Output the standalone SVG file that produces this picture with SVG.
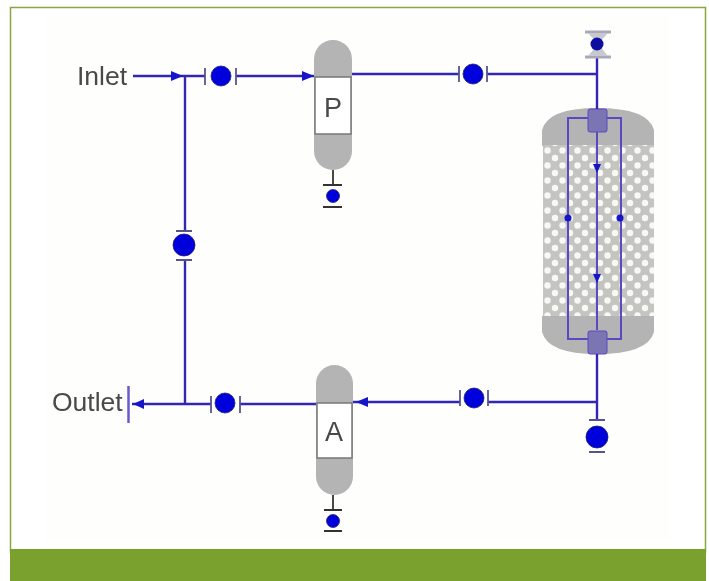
<svg xmlns="http://www.w3.org/2000/svg" width="709" height="581" viewBox="0 0 709 581">
<style>
.l{stroke:#3226b4;stroke-width:2.400;fill:none}
.t{stroke:#55558c;stroke-width:1.800;fill:none}
.b{fill:#0000dc;stroke:#22226e;stroke-width:.8}
.v{fill:#b4b4b4}
.x{font-family:"Liberation Sans",Arial,sans-serif;fill:#4a4a4a}
.h{fill:#1414c8}
</style>
<defs>
<pattern id="p" width="15" height="15" patternUnits="userSpaceOnUse" patternTransform="translate(544 147)">
<rect width="15" height="15" fill="#c4c4c0"/>
<circle cx="3.500" cy="3.500" r="3.200" fill="#f8f8f6"/>
<circle cx="11" cy="11" r="3.200" fill="#f8f8f6"/>
</pattern>
<filter id="s" x="-2%" y="-2%" width="104%" height="104%"><feGaussianBlur stdDeviation="0.6"/></filter>
</defs>
<rect width="709" height="581" fill="#fff"/>
<rect x="10.500" y="7.500" width="695" height="545" fill="#fff" stroke="#86a83e" stroke-width="1.500"/>
<rect x="45" y="16" width="625" height="525" fill="#fefefd"/>
<rect x="10" y="549" width="696" height="32" fill="#7aa02e"/>
<g filter="url(#s)">
<g id="vessel-p">
<rect class="v" x="314" y="40" width="38" height="130" rx="19"/>
<rect x="315" y="77" width="36" height="57" fill="#fff" stroke="#777" stroke-width="1.500"/>
<text class="x" x="333" y="117" font-size="27" text-anchor="middle">P</text>
<path stroke="#333" stroke-width="1.800" d="M333 170V186M323 185H342M323 207H342"/>
<circle class="b" cx="333" cy="196" r="6.500"/>
</g>
<g id="vessel-a">
<rect class="v" x="316" y="365" width="37" height="130" rx="18.500"/>
<rect x="317" y="403" width="35" height="55" fill="#fff" stroke="#777" stroke-width="1.500"/>
<text class="x" x="334" y="441" font-size="27" text-anchor="middle">A</text>
<path stroke="#333" stroke-width="1.800" d="M333 495V510M324 510H342M324 531H342"/>
<circle class="b" cx="333" cy="521" r="6.500"/>
</g>
<g id="column">
<path class="v" d="M542 146V130Q548 108 597 108Q648 108 654 130V146ZM542 316V332Q548 354 597 354Q648 354 654 332V316Z"/>
<rect x="543" y="145" width="111" height="171" fill="url(#p)"/>
<path stroke="#5a48c0" stroke-width="2" fill="none" d="M597 132V330M568 118H621V339H568Z"/>
<rect x="588" y="109" width="19" height="23" rx="2" fill="#7c74b4" stroke="#5a48c0"/>
<rect x="588" y="331" width="19" height="23" rx="2" fill="#7c74b4" stroke="#5a48c0"/>
<path class="h" d="M593 164h8l-4 9zM593 274h8l-4 9z"/>
<circle class="h" cx="568" cy="218" r="3.500"/><circle class="h" cx="620" cy="218" r="3.500"/>
</g>
<g id="connectors">
<path class="l" d="M133 76H205M236 76H314M352 74H459M487 74H597M597 57V109M185 76V231M185 260V404M132 404H211M240 404H316M353 402H460M488 402H597M597 354V419"/>
<path class="h" d="M171 71l12 5-12 5zM302 71l12 5-12 5zM368 397l-12 5 12 5zM133 404l11-5v10z"/>
<path stroke="#6a5ad0" stroke-width="2.500" d="M128.500 386V423"/>
</g>
<g id="valve-inlet"><circle class="b" cx="221" cy="76" r="10"/><path class="t" d="M205 68v17M236 68v17"/></g>
<g id="valve-top"><circle class="b" cx="473" cy="74" r="10"/><path class="t" d="M459 66v16M487 66v16"/></g>
<g id="valve-bypass"><circle class="b" cx="184" cy="245" r="11"/><path class="t" d="M176 231H192M176 260H192"/></g>
<g id="valve-outlet"><circle class="b" cx="225" cy="403" r="10"/><path class="t" d="M211 396v17M240 396v17"/></g>
<g id="valve-bottom"><circle class="b" cx="474" cy="398" r="10"/><path class="t" d="M460 390v16M488 390v16"/></g>
<g id="valve-drain"><circle class="b" cx="597" cy="437" r="11"/><path class="t" d="M589 420H605M589 452H605"/></g>
<g id="valve-vent"><path d="M585 32H611M585 57H611" stroke="#a8a8b8" stroke-width="3"/><path d="M588 33H608L598 44ZM588 56H608L598 44Z" fill="#c8c8d0"/><circle cx="597" cy="44" r="6.500" fill="#1010a0"/></g>
<g id="label-inlet"><text class="x" x="77" y="85" font-size="26.500">Inlet</text></g>
<g id="label-outlet"><text class="x" x="52" y="411" font-size="26.500">Outlet</text></g>
</g>
</svg>
